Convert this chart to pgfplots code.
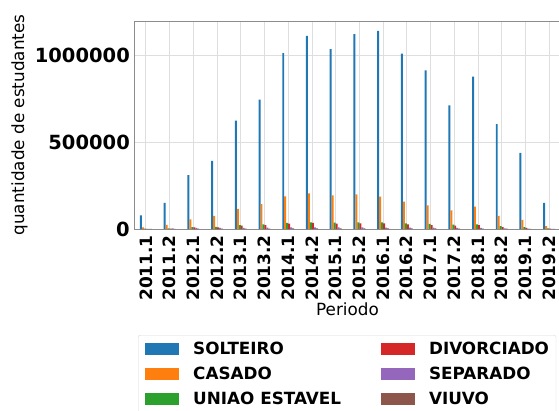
\documentclass[border=0pt]{standalone}
\usepackage{fontspec}
\setmainfont{DejaVu Sans}
\usepackage{pgfplots}
\usepackage{pgfplotstable}
\pgfplotsset{compat=1.18}
\definecolor{c1}{HTML}{1F77B4}
\definecolor{c2}{HTML}{FF7F0E}
\definecolor{c3}{HTML}{2CA02C}
\definecolor{c4}{HTML}{D62728}
\definecolor{c5}{HTML}{9467BD}
\definecolor{c6}{HTML}{8C564B}
\pgfplotsset{mylegend/.style={legend image code/.code={\fill[##1,sharp corners] (0pt,-6pt) rectangle (34pt,6pt);}}}
\pgfplotstableread{
x solteiro casado uniao divorciado separado viuvo
0  78000   10000  1500  1000  800  300
1  150000  24000  3000  2500  4000 500
2  310000  56000  11500 9000  7000 1500
3  391000  75000  12000 10000 7000 1500
4  622000  116000 23000 19000 7000 2000
5  743000  143000 27000 23000 7500 2500
6  1011000 187000 35000 31000 10000 4000
7  1109000 204000 38000 35000 10000 4000
8  1033000 193000 36000 31000 9000 3500
9  1119000 199000 38000 33000 9000 3500
10 1138000 186000 38000 33000 8000 3500
11 1007000 157000 33000 27000 8000 3000
12 912000  136000 29000 23000 8000 3000
13 711000  107000 25000 19000 7000 2500
14 875000  128000 27000 23000 7000 2500
15 603000  76000  17000 11500 4000 1500
16 438000  53000  11000 6000  2500 1000
17 150000  17000  3000  2000  800  300
}\data
\begin{document}
\begin{tikzpicture}
\begin{axis}[
  at={(134pt,-229pt)}, anchor=south west,
  scale only axis, width=427pt, height=208pt,
  ybar=0pt, bar width=0.083333,
  xmin=-0.5, xmax=17.5, ymin=0, ymax=1195000,
  xtick={0,...,17},
  xticklabels={2011.1,2011.2,2012.1,2012.2,2013.1,2013.2,2014.1,2014.2,2015.1,2015.2,2016.1,2016.2,2017.1,2017.2,2018.1,2018.2,2019.1,2019.2},
  ytick={0,500000,1000000},
  yticklabels={0,500000,1000000},
  scaled y ticks=false,
  major tick length=0pt,
  xticklabel style={rotate=90, anchor=east, inner sep=0pt, font=\bfseries\fontsize{17}{18}\selectfont},
  yticklabel style={anchor=east, inner sep=0pt, font=\bfseries\fontsize{19.5}{20}\selectfont},
  xticklabel shift=6pt, yticklabel shift=4pt,
  grid=major, major grid style={black!13, line width=0.8pt},
  axis line style={black!45, line width=0.8pt},
  xlabel={Periodo}, ylabel={quantidade de estudantes},
  label style={font=\fontsize{16.8}{18}\selectfont},
  xlabel style={at={(axis description cs:0.5,-0.387)}, anchor=center, inner sep=0pt},
  ylabel style={at={(axis description cs:-0.268,0.5)}, anchor=center, inner sep=0pt},
  legend columns=3, transpose legend, legend cell align=left,
  legend style={at={(axis description cs:0.0094,-0.5096)}, anchor=north west,
    draw=black!15, rounded corners=2pt, fill=white,
    font=\bfseries\fontsize{16.8}{20}\selectfont,
    inner xsep=7pt, inner ysep=7pt, row sep=11pt,
    /tikz/every odd column/.append style={column sep=14pt},
    /tikz/every even column/.append style={column sep=40pt},
    nodes={inner sep=0pt}},
]
\addplot[fill=c1, draw=none, mylegend] table[x=x,y=solteiro]{\data};
\addplot[fill=c2, draw=none, mylegend] table[x=x,y=casado]{\data};
\addplot[fill=c3, draw=none, mylegend] table[x=x,y=uniao]{\data};
\addplot[fill=c4, draw=none, mylegend] table[x=x,y=divorciado]{\data};
\addplot[fill=c5, draw=none, mylegend] table[x=x,y=separado]{\data};
\addplot[fill=c6, draw=none, mylegend] table[x=x,y=viuvo]{\data};
\legend{SOLTEIRO,CASADO,UNIAO ESTAVEL,DIVORCIADO,SEPARADO,VIUVO}
\end{axis}
\pgfresetboundingbox
\useasboundingbox (0pt,0pt) rectangle (559pt,-410pt);
\end{tikzpicture}
\end{document}
